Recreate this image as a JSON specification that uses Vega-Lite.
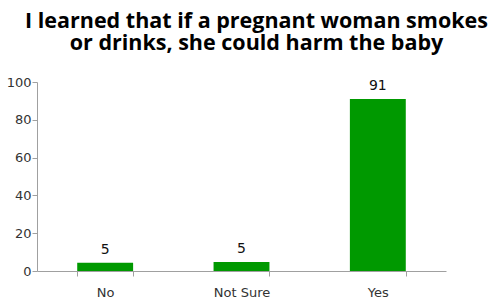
{
  "$schema": "https://vega.github.io/schema/vega-lite/v6.json",
  "width": 409,
  "height": 189,
  "autosize": "none",
  "padding": {"left": 37, "top": 82, "right": 58, "bottom": 33},
  "background": "white",
  "title": {
    "text": ["I learned that if a pregnant woman smokes", "or drinks, she could harm the baby"],
    "font": "Open Sans",
    "fontSize": 21.5,
    "fontWeight": "bold",
    "color": "#000000",
    "anchor": "middle",
    "frame": "group",
    "dx": 15,
    "offset": 22,
    "lineHeight": 22
  },
  "data": {
    "values": [
      {"answer": "No", "value": 4.4, "label": "5"},
      {"answer": "Not Sure", "value": 4.8, "label": "5"},
      {"answer": "Yes", "value": 91, "label": "91"}
    ]
  },
  "encoding": {
    "x": {
      "field": "answer",
      "type": "nominal",
      "sort": null,
      "scale": {"paddingInner": 0.59, "paddingOuter": 0.295},
      "axis": {
        "title": null,
        "labelAngle": 0,
        "tickBand": "extent",
        "domainColor": "#a0a0a0",
        "tickColor": "#a0a0a0",
        "tickSize": 5,
        "labelFont": "DejaVu Sans",
        "labelFontSize": 13,
        "labelColor": "#333333",
        "labelPadding": 10
      }
    },
    "y": {
      "field": "value",
      "type": "quantitative",
      "scale": {"domain": [0, 100]},
      "axis": {
        "title": null,
        "values": [0, 20, 40, 60, 80, 100],
        "grid": false,
        "domainColor": "#a0a0a0",
        "tickColor": "#a0a0a0",
        "tickSize": 5,
        "labelFont": "DejaVu Sans",
        "labelFontSize": 13,
        "labelColor": "#333333",
        "labelPadding": 1
      }
    }
  },
  "layer": [
    {"mark": {"type": "bar", "color": "#009900"}},
    {
      "mark": {"type": "text", "baseline": "alphabetic", "dy": -9, "font": "DejaVu Sans", "fontSize": 14, "fontWeight": 500, "color": "#111111"},
      "encoding": {"text": {"field": "label"}}
    }
  ],
  "config": {"view": {"stroke": null}}
}
